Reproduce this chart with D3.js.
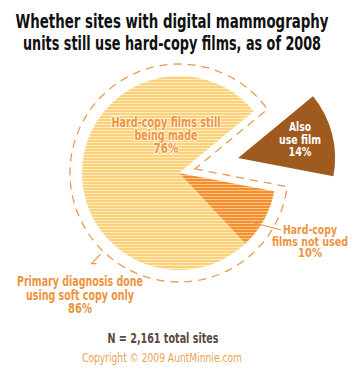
<!DOCTYPE html>
<html><head><meta charset="utf-8">
<script src="https://cdn.jsdelivr.net/npm/d3@7"></script>
<style>body{margin:0;background:#fff}</style>
</head><body><svg id="c" width="360" height="376"></svg>
<script>
const titleLines = ["Whether sites with digital mammography", "units still use hard-copy films, as of 2008"];
const sliceNames = ["Also use film", "Hard-copy films not used", "Hard-copy films still being made"];
const sliceValues = [14, 10, 76];
const sliceLabels = [["Also", "use film", "14%"], ["Hard-copy", "films not used", "10%"], ["Hard-copy films still", "being made", "76%"]];
const groupLabel = ["Primary diagnosis done", "using soft copy only", "86%"];
const groupValue = 86;
const footNote = "N = 2,161 total sites";
const copyright = "Copyright \u00A9 2009 AuntMinnie.com";

const svg = d3.select("#c");
const font = "'Liberation Sans Narrow','DejaVu Sans Condensed','Arial Narrow',sans-serif";
const cx = 179, cy = 173, R = 97, Rdash = 109, off = 7;

// patterns
const defs = svg.append("defs");
function stripes(id, base, line) {
  const p = defs.append("pattern").attr("id", id).attr("patternUnits", "userSpaceOnUse")
    .attr("width", 6).attr("height", 3);
  p.append("rect").attr("width", 6).attr("height", 3).attr("fill", base);
  p.append("rect").attr("y", 2).attr("width", 6).attr("height", 1).attr("fill", line);
}
stripes("py", "#FDD07A", "#FFEDC2");
stripes("po", "#F58E2C", "#FCC68C");
const fills = ["#9F5A20", "url(#po)", "url(#py)"];

// title
svg.append("g").selectAll("text").data(titleLines).join("text")
  .attr("x", 172).attr("y", (d, i) => 28 + i * 22)
  .attr("text-anchor", "middle").attr("font-family", font).attr("font-weight", "bold")
  .attr("font-size", 19).attr("fill", "#111")
  .attr("textLength", (d, i) => [313, 298][i]).attr("lengthAdjust", "spacingAndGlyphs")
  .text(d => d);

// pie
const start = 50.5 * Math.PI / 180;
const pie = d3.pie().sort(null).value(d => d).startAngle(start).endAngle(start + 2 * Math.PI);
const arcs = pie(sliceValues);
const arc = d3.arc().innerRadius(0).outerRadius(R);
const explode = 61;
const g = svg.append("g").attr("transform", `translate(${cx},${cy})`);
g.selectAll("path.slice").data(arcs).join("path").attr("class", "slice")
  .attr("d", arc).attr("fill", (d, i) => fills[i])
  .attr("transform", (d, i) => {
    if (i !== 0) return null;
    const m = (d.startAngle + d.endAngle) / 2;
    return `translate(${explode * Math.sin(m)},${-explode * Math.cos(m)})`;
  });

// dashed outline around the 86% group
const a0 = arcs[1].startAngle, a1 = arcs[2].endAngle;
const half = (a0 - (a1 - 2 * Math.PI)) / 2;
const bis = a0 - half;
const dApex = off / Math.sin(half);
const delta = Math.asin(off / Rdash);
const pt = (ang, r) => [r * Math.sin(ang), -r * Math.cos(ang)];
const apex = pt(bis, dApex);
const p = d3.path();
p.moveTo(apex[0], apex[1]);
const e0 = pt(a0 - delta, Rdash);
p.lineTo(e0[0], e0[1]);
p.arc(0, 0, Rdash, a0 - delta - Math.PI / 2, a1 + delta - Math.PI / 2, false);
p.closePath();
g.append("path").attr("d", p.toString()).attr("fill", "none")
  .attr("stroke", "#E99A50").attr("stroke-width", 1.3).attr("stroke-dasharray", "8,6");

// leader lines
const mo = (arcs[1].startAngle + arcs[1].endAngle) / 2;
const ls = pt(mo + 0.08, R - 6);
g.append("line").attr("x1", ls[0]).attr("y1", ls[1]).attr("x2", 281 - cx).attr("y2", 230 - cy)
  .attr("stroke", "#E99A50").attr("stroke-width", 1.2);
const lg = 224 * Math.PI / 180;
const l1 = pt(lg, Rdash + 4), l2 = pt(lg, Rdash + 17);
g.append("path").attr("d", `M${l1[0]},${l1[1]}L${l2[0]},${l2[1]}l5,0`).attr("fill", "none")
  .attr("stroke", "#E99A50").attr("stroke-width", 1.2);

// labels
function block(lines, x, y0, dy, size, widths, attrs) {
  const t = svg.append("g").selectAll("text").data(lines).join("text")
    .attr("x", x).attr("y", (d, i) => y0 + i * dy)
    .attr("text-anchor", "middle").attr("font-family", font).attr("font-weight", "bold")
    .attr("font-size", size)
    .attr("textLength", (d, i) => widths[i]).attr("lengthAdjust", "spacingAndGlyphs")
    .text(d => d);
  Object.entries(attrs).forEach(([k, v]) => t.attr(k, v));
}
block(sliceLabels[2], 166, 127, 13, 13.5, [109, 63, 25],
  {fill: "#EE9440", stroke: "#FFF4DE", "stroke-width": 2.2, "paint-order": "stroke", "stroke-linejoin": "round"});
block(sliceLabels[0], 300, 131, 12.5, 13, [22, 42, 23], {fill: "#fff"});
block(sliceLabels[1], 310, 234, 11.7, 12.5, [54, 76, 24], {fill: "#EC9440"});
block(groupLabel, 80, 286, 13.5, 13.5, [126, 108, 24], {fill: "#EC9440"});
block([footNote], 163, 343, 0, 13.5, [111], {fill: "#5A4A3C"});
svg.append("text").attr("x", 162).attr("y", 362).attr("text-anchor", "middle")
  .attr("font-family", font).attr("font-size", 12).attr("fill", "#EFA050")
  .attr("textLength", 160).attr("lengthAdjust", "spacingAndGlyphs").text(copyright);
</script></body></html>
